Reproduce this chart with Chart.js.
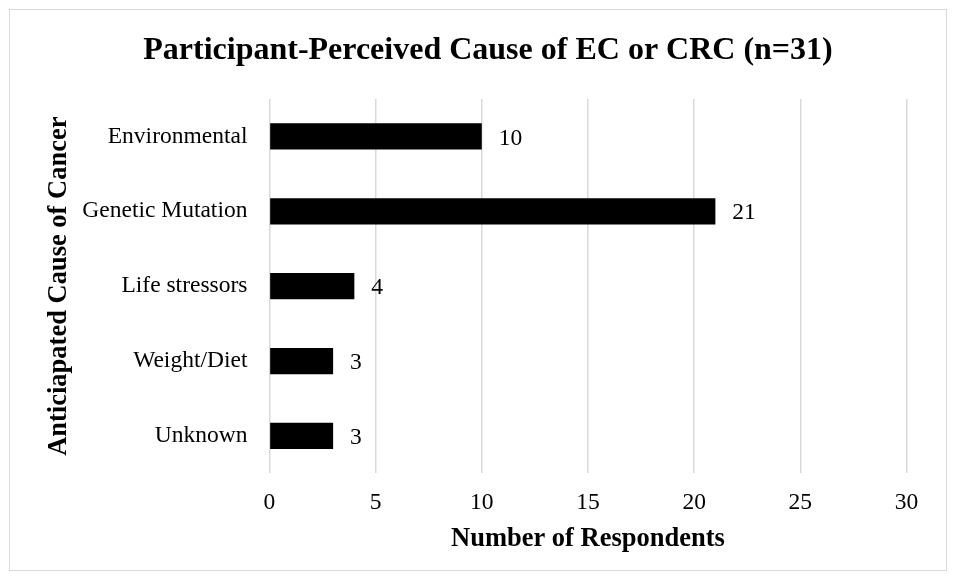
<!DOCTYPE html>
<html>
<head>
<meta charset="utf-8">
<script src="https://cdn.jsdelivr.net/npm/chart.js@4.4.1/dist/chart.umd.min.js"></script>
<style>
  body { margin: 0; background: #fff; }
  #wrap { position: relative; width: 956px; height: 580px; }
  #frame {
    position: absolute; left: 9px; top: 9px; width: 936px; height: 560px;
    border: 1px solid #d9d9d9; pointer-events: none;
  }
</style>
</head>
<body>
<div id="wrap">
  <canvas id="myChart" width="956" height="580"></canvas>
  <div id="frame"></div>
</div>
<script>
const causes = ["Environmental", "Genetic Mutation", "Life stressors", "Weight/Diet", "Unknown"];
const respondents = [10, 21, 4, 3, 3];
const xTicks = [0, 5, 10, 15, 20, 25, 30];

const serif = "'Times New Roman', 'Liberation Serif', serif";

// value labels to the right of each bar
const barValues = {
  id: "barValues",
  afterDatasetsDraw(chart) {
    const ctx = chart.ctx;
    const meta = chart.getDatasetMeta(0);
    ctx.save();
    ctx.font = "23.5px " + serif;
    ctx.fillStyle = "#000";
    ctx.textAlign = "left";
    ctx.textBaseline = "middle";
    meta.data.forEach((bar, i) => {
      ctx.fillText(String(chart.data.datasets[0].data[i]), bar.x + 17, bar.y + 2);
    });
    ctx.restore();
  },
};

const config = {
  type: "bar",
  data: {
    labels: causes,
    datasets: [
      {
        label: "Number of Respondents",
        data: respondents,
        backgroundColor: "#000000",
        borderWidth: 0,
        barPercentage: 0.35,
        categoryPercentage: 1.0,
      },
    ],
  },
  options: {
    indexAxis: "y",
    responsive: false,
    maintainAspectRatio: false,
    animation: false,
    layout: {
      padding: { left: 69.5, right: 49.5, top: 0, bottom: 10.6 },
    },
    scales: {
      x: {
        min: 0,
        max: 30,
        afterBuildTicks: (axis) => {
          axis.ticks = xTicks.map((v) => ({ value: v }));
        },
        grid: {
          color: "#d9d9d9",
          lineWidth: 1.5,
          drawTicks: false,
        },
        border: { display: false },
        ticks: {
          padding: 15,
          color: "#000",
          font: { family: serif, size: 23.5 },
        },
        title: {
          display: true,
          text: "Number of Respondents",
          color: "#000",
          font: { family: serif, size: 26.5, weight: "bold" },
          padding: { top: -8.8, bottom: 14.8 },
        },
      },
      y: {
        grid: { display: false, drawTicks: false },
        border: { display: false },
        ticks: {
          padding: 22,
          color: "#000",
          font: { family: serif, size: 23.5 },
        },
        title: {
          display: true,
          text: "Anticiapated Cause of Cancer",
          color: "#000",
          font: { family: serif, size: 26.5, weight: "bold" },
          padding: { top: -26.4, bottom: -14.6 },
        },
      },
    },
    plugins: {
      legend: { display: false },
      tooltip: { enabled: false },
      title: {
        display: true,
        text: "Participant-Perceived Cause of EC or CRC (n=31)",
        color: "#000",
        font: { family: serif, size: 32, weight: "bold" },
        padding: { top: 32, bottom: 28.6 },
      },
    },
  },
  plugins: [barValues],
};

const ctx = document.getElementById("myChart").getContext("2d");
new Chart(ctx, config);
</script>
</body>
</html>
